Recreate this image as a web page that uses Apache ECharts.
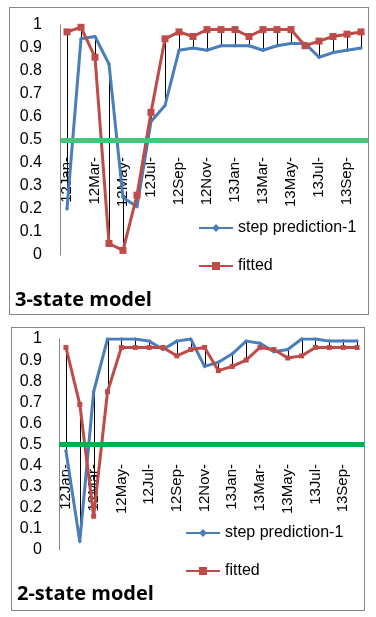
<!DOCTYPE html>
<html>
<head>
<meta charset="utf-8">
<script src="https://cdn.jsdelivr.net/npm/echarts@6/dist/echarts.min.js"></script>
<style>
    html, body {margin: 0; padding: 0; background: #fff;}
    .panel {position: absolute; box-sizing: border-box; border: 1px solid #868686; background: #fff;}
    #top {left: 9px; top: 7px; width: 360px; height: 308px;}
    #bottom {left: 11px; top: 327px; width: 354px; height: 284px;}
</style>
</head>
<body>
<div id="top" class="panel"></div>
<div id="bottom" class="panel"></div>
<script>
// months, Jan 2012 .. Oct 2013
const categories = [
    '12Jan-', '12Feb-', '12Mar-', '12Apr-', '12May-', '12Jun-', '12Jul-', '12Aug-',
    '12Sep-', '12Oct-', '12Nov-', '12Dec-', '13Jan-', '13Feb-', '13Mar-', '13Apr-',
    '13May-', '13Jun-', '13Jul-', '13Aug-', '13Sep-', '13Oct-'
];

// 3-state model
const step3 = [0.20, 0.94, 0.95, 0.83, 0.25, 0.21, 0.58, 0.65, 0.89, 0.90, 0.89,
               0.91, 0.91, 0.91, 0.89, 0.91, 0.92, 0.92, 0.86, 0.88, 0.89, 0.90];
const fitted3 = [0.97, 0.99, 0.86, 0.05, 0.02, 0.26, 0.62, 0.94, 0.97, 0.95, 0.98,
                 0.98, 0.98, 0.95, 0.98, 0.98, 0.98, 0.91, 0.93, 0.95, 0.96, 0.97];

// 2-state model
const step2 = [0.47, 0.04, 0.75, 1.00, 1.00, 1.00, 0.99, 0.95, 0.99, 1.00, 0.87,
               0.89, 0.93, 0.99, 0.98, 0.94, 0.95, 1.00, 1.00, 0.99, 0.99, 0.99];
const fitted2 = [0.96, 0.69, 0.16, 0.75, 0.96, 0.96, 0.96, 0.96, 0.92, 0.95, 0.96,
                 0.85, 0.87, 0.90, 0.96, 0.95, 0.91, 0.92, 0.96, 0.96, 0.96, 0.96];

const threshold = 0.5;

const FONT = 'Liberation Sans, Arial, sans-serif';
const BLUE = '#4a7ebb';
const RED = '#be4b48';

function buildOptions(cfg) {
    const hiLo = cfg.step.map((v, i) => [i, v, cfg.fitted[i]]);
    return {
        animation: false,
        textStyle: {fontFamily: FONT},
        title: {
            text: cfg.title,
            left: cfg.titleLeft,
            top: cfg.titleTop,
            padding: 0,
            textStyle: {fontFamily: 'Open Sans', fontSize: 20, fontWeight: 'bold', color: '#000'}
        },
        legend: {
            orient: 'vertical',
            left: cfg.legendLeft,
            top: cfg.legendTop,
            padding: 0,
            itemWidth: 34,
            itemHeight: 10,
            itemGap: 22,
            data: ['step prediction-1', 'fitted'],
            textStyle: {fontFamily: FONT, fontSize: 16, color: '#000', padding: [0, 0, 0, 0]}
        },
        grid: {
            left: cfg.grid.left,
            top: cfg.grid.top,
            width: cfg.grid.width,
            height: cfg.grid.height,
            containLabel: false
        },
        xAxis: {
            type: 'category',
            data: categories,
            boundaryGap: true,
            axisLine: {show: false},
            axisTick: {show: false},
            splitLine: {show: false},
            axisLabel: {
                interval: 1,
                rotate: 90,
                margin: cfg.labelMargin,
                fontSize: 15,
                color: '#000',
                fontFamily: FONT
            }
        },
        yAxis: {
            type: 'value',
            min: 0,
            max: 1,
            interval: 0.1,
            axisLine: {show: true, lineStyle: {color: '#868686', width: 1}},
            axisTick: {show: false},
            splitLine: {show: false},
            axisLabel: {
                fontSize: 16,
                color: '#000',
                margin: cfg.yMargin,
                fontFamily: FONT,
                formatter: v => String(+v.toFixed(1))
            }
        },
        series: [
            {
                // high-low lines between the two series
                type: 'custom',
                name: 'hilo',
                z: 1,
                data: hiLo,
                renderItem: (params, api) => {
                    const p1 = api.coord([api.value(0), api.value(1)]);
                    const p2 = api.coord([api.value(0), api.value(2)]);
                    return {
                        type: 'line',
                        shape: {x1: Math.round(p1[0]) + 0.5, y1: p1[1], x2: Math.round(p2[0]) + 0.5, y2: p2[1]},
                        style: {stroke: '#000', lineWidth: 1}
                    };
                }
            },
            {
                type: 'line',
                name: 'step prediction-1',
                z: 3,
                data: cfg.step,
                color: BLUE,
                symbol: 'diamond',
                symbolSize: 4,
                showSymbol: true,
                lineStyle: {width: 3, color: BLUE},
                itemStyle: {color: BLUE},
                markLine: {
                    silent: true,
                    symbol: 'none',
                    label: {show: false},
                    lineStyle: {color: cfg.green, width: 5, type: 'solid'},
                    data: [{yAxis: threshold}]
                }
            },
            {
                type: 'line',
                name: 'fitted',
                z: 4,
                data: cfg.fitted,
                color: RED,
                symbol: 'rect',
                symbolSize: cfg.redSize,
                showSymbol: true,
                lineStyle: {width: 3, color: RED},
                itemStyle: {color: RED}
            }
        ]
    };
}

const topChart = echarts.init(document.getElementById('top'));
topChart.setOption(buildOptions({
    title: '3-state model',
    titleLeft: 5,
    titleTop: 282,
    legendLeft: 188,
    legendTop: 212,
    grid: {left: 50, top: 17, width: 308, height: 230},
    labelMargin: -98,
    yMargin: 18,
    step: step3,
    fitted: fitted3,
    green: '#47c47b',
    redSize: 7
}));

const bottomChart = echarts.init(document.getElementById('bottom'));
bottomChart.setOption(buildOptions({
    title: '2-state model',
    titleLeft: 5,
    titleTop: 256,
    legendLeft: 173,
    legendTop: 197,
    grid: {left: 47, top: 11, width: 306, height: 211},
    labelMargin: -86,
    yMargin: 17,
    step: step2,
    fitted: fitted2,
    green: '#00b050',
    redSize: 5
}));
</script>
</body>
</html>
